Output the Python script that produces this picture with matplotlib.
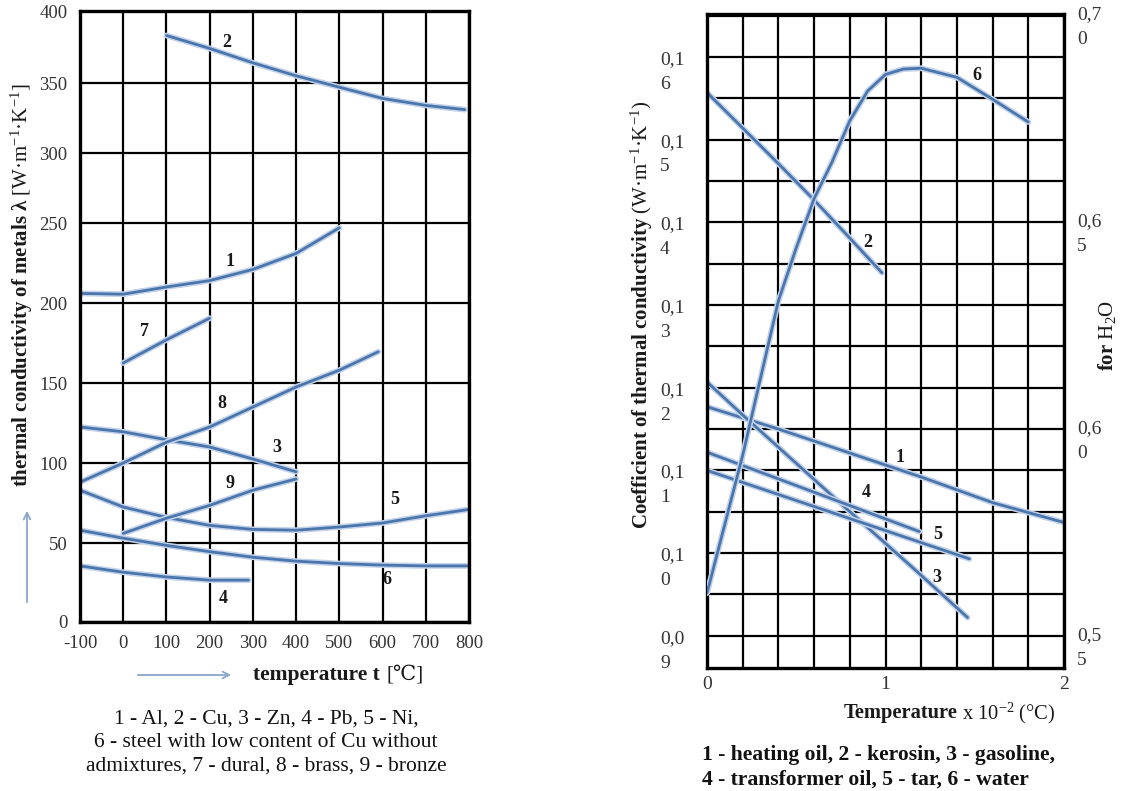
import numpy as np
import matplotlib
matplotlib.use('Agg')
import matplotlib.pyplot as plt
import matplotlib.patheffects as pe
from matplotlib import transforms

plt.rcParams['font.family'] = ['Liberation Serif', 'DejaVu Serif']
plt.rcParams['mathtext.fontset'] = 'custom'
plt.rcParams['mathtext.rm'] = 'Liberation Serif'
plt.rcParams['mathtext.bf'] = 'Liberation Serif:bold'
plt.rcParams['mathtext.it'] = 'Liberation Serif:italic'
plt.rcParams['axes.unicode_minus'] = False

#metals: temperature t (C) vs thermal conductivity (W/m/K)
al_t = [-100, 0, 100, 200, 300, 400, 500]
al_k = [206, 205.5, 210, 214, 221, 231, 247]
cu_t = [100, 200, 300, 400, 500, 600, 700, 790]
cu_k = [383, 374, 364, 355, 347, 339, 334, 331]
zn_t = [-100, 0, 100, 200, 300, 400]
zn_k = [122.5, 119.5, 114.5, 110, 102.5, 94.5]
pb_t = [-100, 0, 100, 200, 290]
pb_k = [35.5, 31.5, 28.5, 26.5, 26.5]
ni_t = [-100, 0, 100, 200, 300, 400, 500, 600, 700, 800]
ni_k = [83, 72.5, 66, 61, 58.5, 58, 60, 62.5, 67, 71]
steel_t = [-100, 0, 100, 200, 300, 400, 500, 600, 700, 800]
steel_k = [58, 53, 48.5, 44.5, 41, 38.5, 37, 36, 35.5, 35.5]
dural_t = [0, 100, 200]
dural_k = [162.5, 177, 190.5]
brass_t = [-100, 0, 100, 200, 300, 400, 500, 590]
brass_k = [88, 100, 113, 122.5, 135, 147.5, 158, 169.5]
bronze_t = [0, 100, 200, 300, 400]
bronze_k = [56, 65.5, 73.5, 83, 90]

metal_curves = [(al_t, al_k), (cu_t, cu_k), (zn_t, zn_k), (pb_t, pb_k), (ni_t, ni_k),
                (steel_t, steel_k), (dural_t, dural_k), (brass_t, brass_k), (bronze_t, bronze_k)]
metal_tags = ['2', '1', '7', '8', '3', '9', '5', '6', '4']
metal_tag_t = [240, 247, 50, 228, 355, 247, 629, 610, 231]
metal_tag_k = [378, 226, 182, 137, 110, 87, 77, 27, 15]

#liquids: temperature x 10^-2 (C) vs thermal conductivity (W/m/K)
oil_x = [0, 0.4, 0.8, 1.2, 1.6, 2.0]
oil_y = [0.1177, 0.1150, 0.1121, 0.1092, 0.1061, 0.1037]
kero_x = [0, 0.2, 0.4, 0.6, 0.8, 0.98]
kero_y = [0.1557, 0.1514, 0.1471, 0.1427, 0.1381, 0.1339]
gas_x = [0, 0.2, 0.78, 1.18, 1.46]
gas_y = [0.1207, 0.1167, 0.1054, 0.0977, 0.0922]
trafo_x = [0, 1.19]
trafo_y = [0.1122, 0.1026]
tar_x = [0, 1.47]
tar_y = [0.1100, 0.0993]
water_x = [0, 0.2, 0.4, 0.5, 0.6, 0.7, 0.8, 0.9, 1.0, 1.1, 1.2, 1.4, 1.6, 1.8]
water_y = [0.5604, 0.5937, 0.6310, 0.6438, 0.6557, 0.6645, 0.6745, 0.6817, 0.6857,
           0.6870, 0.6872, 0.6850, 0.6797, 0.6742]

liquid_curves = [(oil_x, oil_y), (kero_x, kero_y), (gas_x, gas_y), (trafo_x, trafo_y), (tar_x, tar_y)]
liquid_tags = ['6', '2', '1', '4', '5', '3']
liquid_tag_x = [1.51, 0.90, 1.08, 0.89, 1.29, 1.29]
liquid_tag_y = [0.1578, 0.1376, 0.1116, 0.1073, 0.1022, 0.0971]

left_ticks = [0.16, 0.15, 0.14, 0.13, 0.12, 0.11, 0.10, 0.09]
left_labels = ['0,1\n6', '0,1\n5', '0,1\n4', '0,1\n3', '0,1\n2', '0,1\n1', '0,1\n0', '0,0\n9']
water_ticks = [0.70, 0.65, 0.60, 0.55]
water_labels = ['0,7\n0', '0,6\n5', '0,6\n0', '0,5\n5']

#figure in pixel units
W, H = 1126, 791
fig = plt.figure(figsize=(W / 100, H / 100), dpi=100)

def fxy(x, y):
    return x / W, 1 - y / H

line_kw = dict(color='#4a76ad', lw=2.0, solid_capstyle='round',
               path_effects=[pe.Stroke(linewidth=4.2, foreground='#c3d2e8'), pe.Normal()])
arrow_kw = dict(arrowstyle='->', color='#8ea6c9', lw=1.3)
grey = '#333333'
ink = '#1a1a1a'

#---------------- left chart ----------------
ax = fig.add_axes([80 / W, 1 - 622 / H, 389 / W, 611 / H])

#the drawn grid is not evenly spaced, follow it
grid_k = [0, 50, 100, 150, 200, 250, 300, 350, 400]
grid_pos = [0, 79, 159, 239, 319, 399, 469, 539, 611]
ax.set_yscale('function', functions=(lambda v: np.interp(v, grid_k, grid_pos),
                                     lambda p: np.interp(p, grid_pos, grid_k)))
ax.set_xlim(-100, 800)
ax.set_ylim(0, 400)
ax.set_xticks(np.arange(-100, 801, 100))
ax.set_yticks(grid_k)
ax.grid(True, color='black', lw=1.6)
ax.tick_params(length=0, labelsize=13.5, labelcolor=grey)
ax.tick_params(axis='x', pad=9)
ax.tick_params(axis='y', pad=9)
for s in ax.spines.values():
    s.set_linewidth(2.4)

for t, k in metal_curves:
    ax.plot(t, k, **line_kw)
for tag, t, k in zip(metal_tags, metal_tag_t, metal_tag_k):
    ax.text(t, k, tag, fontsize=13, fontweight='bold', color=ink, ha='center', va='center')

fig.text(*fxy(22, 285), r'$\mathbf{thermal\ conductivity\ of\ metals\ λ}$ [W·m$^{-1}$·K$^{-1}$]',
         rotation=90, ha='center', va='center', fontsize=15, color=ink)
fig.text(*fxy(380, 675), 'temperature t', fontsize=15.5, fontweight='bold', ha='right', va='center',
         color=ink)
fig.text(*fxy(386, 675), '[℃]', fontsize=15, ha='left', va='center', color=ink,
         family=['Liberation Serif', 'DejaVu Serif'])
fig.add_artist(matplotlib.patches.FancyArrowPatch(fxy(135, 675), fxy(234, 675), transform=fig.transFigure,
                                                  mutation_scale=12, **arrow_kw))
fig.add_artist(matplotlib.patches.FancyArrowPatch(fxy(27, 605), fxy(27, 508), transform=fig.transFigure,
                                                  mutation_scale=12, **arrow_kw))

left_caption = ['1 - Al, 2 - Cu, 3 - Zn, 4 - Pb, 5 - Ni,',
                '6 - steel with low content of Cu without',
                'admixtures, 7 - dural, 8 - brass, 9 - bronze']
for i, line in enumerate(left_caption):
    fig.text(*fxy(266, 719 + 23.5 * i), line, fontsize=15.5, ha='center', va='center', color='#111111')

#---------------- right chart ----------------
ax2 = fig.add_axes([707 / W, 1 - 668 / H, 357 / W, 654 / H])
ax2.set_xlim(0, 2)
ax2.set_ylim(0.0861, 0.1652)
xt = np.round(np.arange(0, 2.01, 0.2), 1)
ax2.set_xticks(xt, [str(int(v)) if v in (0, 1, 2) else '' for v in xt])
ax2.set_yticks(np.round(np.arange(0.09, 0.1651, 0.005), 3), [])
ax2.grid(True, color='black', lw=1.6)
ax2.tick_params(length=0, labelsize=14, labelcolor=grey)
ax2.tick_params(axis='x', pad=6)
for s in ax2.spines.values():
    s.set_linewidth(2.4)

for x, y in liquid_curves:
    ax2.plot(x, y, **line_kw)

ax3 = ax2.twinx()
ax3.set_ylim(0.5423, 0.7003)
ax3.set_yticks([])
for s in ax3.spines.values():
    s.set_visible(False)
ax3.plot(water_x, water_y, **line_kw)

for tag, x, y in zip(liquid_tags, liquid_tag_x, liquid_tag_y):
    ax2.text(x, y, tag, fontsize=13, fontweight='bold', color=ink, ha='center', va='center')

#two-line tick labels, first line level with its grid line
tr_left = transforms.offset_copy(ax2.get_yaxis_transform(), fig=fig, y=6, units='dots')
for v, lbl in zip(left_ticks, left_labels):
    ax2.text(-0.132, v, lbl, transform=tr_left, ha='left', va='top', fontsize=14,
             color=grey, linespacing=1.6)
tr_right = transforms.offset_copy(ax3.get_yaxis_transform(), fig=fig, y=9, units='dots')
for v, lbl in zip(water_ticks, water_labels):
    ax3.text(1.036, v, lbl, transform=tr_right, ha='left', va='top', fontsize=14,
             color=grey, linespacing=1.6)

fig.text(*fxy(642, 315), r'$\mathbf{Coefficient\ of\ thermal\ conductivity}$ (W·m$^{-1}$·K$^{-1}$)',
         rotation=90, ha='center', va='center', fontsize=15, color=ink)
fig.text(*fxy(1107, 335), r'$\mathbf{for}$ H$_2$O', rotation=90, ha='center', va='center',
         fontsize=15, color=ink)
fig.text(*fxy(958, 713), 'Temperature', fontsize=14.8, fontweight='bold', ha='right', va='center',
         color=ink)
fig.text(*fxy(962, 713), r'x 10$^{-2}$ (°C)', fontsize=14.8, ha='left', va='center', color=ink)

right_caption = ['1 - heating oil, 2 - kerosin, 3 - gasoline,',
                 '4 - transformer oil, 5 - tar, 6 - water']
for i, line in enumerate(right_caption):
    fig.text(*fxy(702, 755 + 25 * i), line, fontsize=15.6, fontweight='bold', ha='left', va='center',
             color='#111111')

plt.savefig('out.png', dpi=100)
